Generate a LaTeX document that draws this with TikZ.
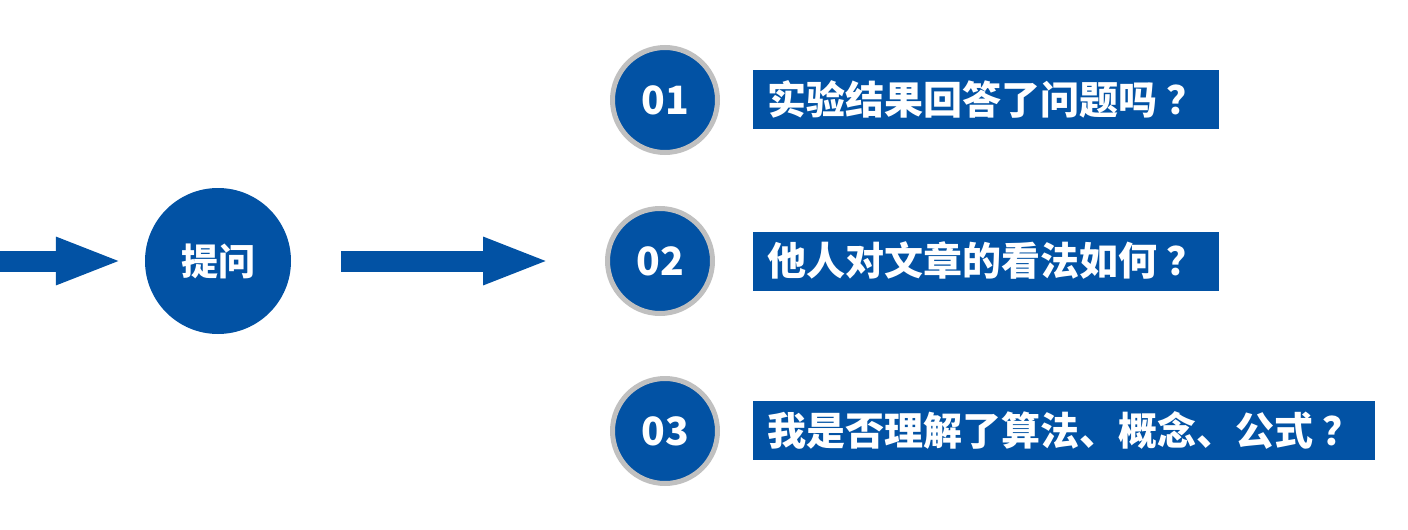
\documentclass[tikz,border=0pt]{standalone}
\usepackage{fontspec}
\usepackage{tikz}
\usetikzlibrary{arrows.meta,positioning}
\newfontfamily\cjk{Noto Sans CJK SC}
\definecolor{qblue}{RGB}{2,82,164}
\definecolor{qgray}{RGB}{192,192,192}
\newcommand{\qmark}{\hspace{9pt}？}

\begin{document}
\begin{tikzpicture}[x=1pt,y=-1pt,
  bigarrow/.style={qblue, line width=21pt, -{Triangle[length=67pt, width=43pt]}},
  numnode/.style={circle, draw=qgray, line width=5pt, fill=qblue, minimum size=105pt, inner sep=0pt, text=white, font=\cjk\bfseries\fontsize{39}{44}\selectfont},
  qbox/.style={fill=qblue, anchor=west, minimum height=59pt, inner xsep=14pt, inner ysep=0pt, text=white, font=\cjk\bfseries\fontsize{39}{44}\selectfont}]
\useasboundingbox (0,0) rectangle (1408,530);
% Question
\node[circle, fill=qblue, minimum size=146pt, inner sep=0pt, text=white, font=\cjk\bfseries\fontsize{37}{42}\selectfont] (q) at (218,261) {提问};
\coordinate (in) at (0,261);
% Numbered items
\node[numnode] (n1) at (665,100) {01};
\node[numnode] (n2) at (660,261) {02};
\node[numnode] (n3) at (665,431) {03};
\node[qbox] (b1) at (753,99) {实验结果回答了问题吗\qmark};
\node[qbox] (b2) at (753,261) {他人对文章的看法如何\qmark};
\node[qbox] (b3) at (753,430) {我是否理解了算法、概念、公式\qmark};
% Arrows
\draw[bigarrow] (in) -- ([xshift=-22pt]q.west);
\draw[bigarrow] ([xshift=50pt]q.east) -- ([xshift=-55pt]n2.west);
\end{tikzpicture}
\end{document}
